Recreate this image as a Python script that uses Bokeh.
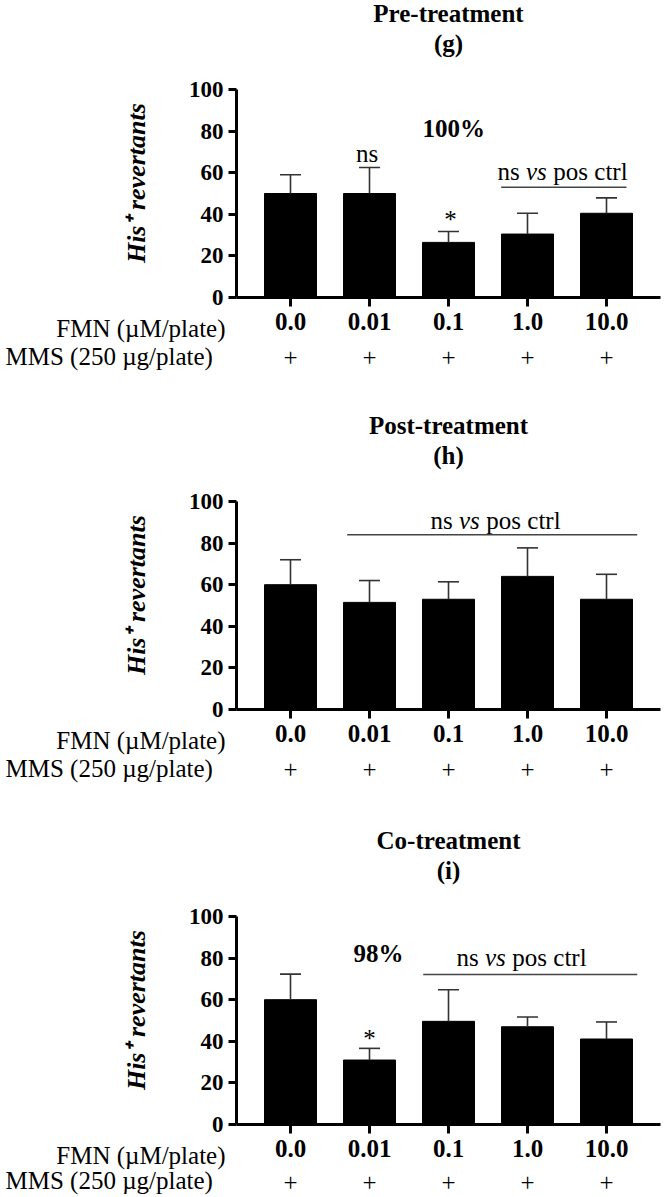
import math
from bokeh.plotting import figure
from bokeh.models import Range1d, FixedTicker, Label, ColumnDataSource
from bokeh.layouts import column
from bokeh.embed import file_html
from bokeh.resources import INLINE

# ---------------- data ----------------
doses = ["0.0", "0.01", "0.1", "1.0", "10.0"]
mms_marks = ["+", "+", "+", "+", "+"]
row1_label = "FMN (\u00b5M/plate)"
row2_label = "MMS (250 \u00b5g/plate)"
y_label = "His\u207a revertants"
y_ticks = [0, 20, 40, 60, 80, 100]

pre_mean = [50, 50, 26.5, 30.5, 40.5]
pre_err = [9, 12.5, 5.2, 10, 7.4]
post_mean = [60, 51.5, 53, 64, 53]
post_err = [12, 10.5, 8.4, 13.7, 12]
co_mean = [60, 31, 49.6, 47, 41.1]
co_err = [12.3, 5.6, 15.2, 4.7, 8.2]

titles = ["Pre-treatment", "Post-treatment", "Co-treatment"]
letters = ["(g)", "(h)", "(i)"]

FONT = "Liberation Serif"
PX = 79.0    # pixels per category step
PY = 2.08    # pixels per y unit
W = 665
X0 = 290     # pixel of first category centre
TSHIFT = 7   # text baseline correction in pixels


def dx(px):
    return (px - X0) / PX


def make_panel(title, letter, means, errs, height, zero_px, row2_v):
    xs = list(range(len(doses)))
    p = figure(width=W, height=height, min_border=0,
               x_range=Range1d(dx(0), dx(W)),
               y_range=Range1d((zero_px - height) / PY, zero_px / PY),
               title_location=None,
               output_backend="svg", toolbar_location=None)
    p.xgrid.visible = False
    p.ygrid.visible = False
    p.outline_line_color = None
    p.background_fill_color = "white"
    p.border_fill_color = "white"

    src = ColumnDataSource(dict(x=xs, top=means,
                                up=[m + e for m, e in zip(means, errs)]))
    p.vbar(x="x", top="top", bottom=0, width=52 / PX, source=src,
           fill_color="black", line_color="black")
    p.segment(x0="x", y0="top", x1="x", y1="up", source=src,
              line_color="#333333", line_width=1.6)
    half = 10.5 / PX
    cap = ColumnDataSource(dict(x0=[x - half for x in xs], x1=[x + half for x in xs],
                                y=[m + e for m, e in zip(means, errs)]))
    p.segment(x0="x0", y0="y", x1="x1", y1="y", source=cap,
              line_color="#333333", line_width=1.6)

    xa = p.xaxis[0]
    ya = p.yaxis[0]
    for ax in (xa, ya):
        ax.axis_line_width = 3
        ax.axis_line_color = "black"
        ax.major_tick_line_width = 3
        ax.major_tick_line_color = "black"
        ax.major_tick_in = 0
        ax.minor_tick_line_color = None
        ax.major_label_text_font = FONT
        ax.major_label_text_font_style = "bold"
        ax.major_label_text_color = "black"
    ya.fixed_location = dx(236)
    ya.bounds = (0, 100)
    ya.ticker = FixedTicker(ticks=y_ticks)
    ya.major_tick_out = 8
    ya.major_label_text_font_size = "23px"
    ya.major_label_standoff = 5
    xa.fixed_location = 0
    xa.bounds = (dx(236), dx(660))
    xa.ticker = FixedTicker(ticks=xs)
    xa.major_label_overrides = {i: d for i, d in enumerate(doses)}
    xa.major_tick_out = 9
    xa.major_label_text_font_size = "25px"
    xa.major_label_standoff = 6

    def lab(x, y, t, style="normal", align="center", size="25px", angle=0.0):
        if angle == 0.0:
            y = y + TSHIFT / PY
        else:
            x = x - TSHIFT / PX
        p.add_layout(Label(x=x, y=y, text=t, text_font=FONT, text_font_style=style,
                           text_font_size=size, text_align=align, angle=angle,
                           text_baseline="alphabetic", text_color="black"))

    lab(2.0, 100 + 69 / PY, title, style="bold")
    lab(2.0, 100 + 39 / PY, letter, style="bold")
    lab(dx(143), 55.0, y_label, style="bold italic", size="26px", angle=math.pi / 2)
    lab(dx(225), -18.3, row1_label, align="right")
    lab(dx(5), row2_v, row2_label, align="left")
    for i, m in enumerate(mms_marks):
        lab(i, row2_v - 0.6, m)
    p._lab = lab
    return p


def add_ns_vs(p, x_left_px, y, line_x0, line_x1, line_y):
    x0 = dx(x_left_px)
    p._lab(x0, y, "ns", align="left")
    p._lab(x0 + 28.5 / PX, y, "vs", style="italic", align="left")
    p._lab(x0 + 55.8 / PX, y, "pos ctrl", align="left")
    p.segment(x0=[line_x0], y0=[line_y], x1=[line_x1], y1=[line_y],
              line_color="#444444", line_width=1.6)


p1 = make_panel(titles[0], letters[0], pre_mean, pre_err, 400, 297, -31.5)
p1._lab(0.97, 65.9, "ns")
p1._lab(2.025, 34.0, "*")
p1._lab(2.067, 77.9, "100%", style="bold")
add_ns_vs(p1, 497, 57.2, 2.667, 4.253, 53.0)

p2 = make_panel(titles[1], letters[1], post_mean, post_err, 400, 309, -31.5)
add_ns_vs(p2, 430, 87.5, 0.718, 4.389, 84.0)

p3 = make_panel(titles[2], letters[2], co_mean, co_err, 397, 324, -30.5)
p3._lab(1.0, 38.0, "*")
p3._lab(1.114, 79.0, "98%", style="bold")
add_ns_vs(p3, 456, 76.9, 1.68, 4.389, 72.1)

for p in (p1, p2, p3):
    del p._lab

layout = column(p1, p2, p3, spacing=0)
open("out.html", "w").write(file_html(layout, INLINE))
